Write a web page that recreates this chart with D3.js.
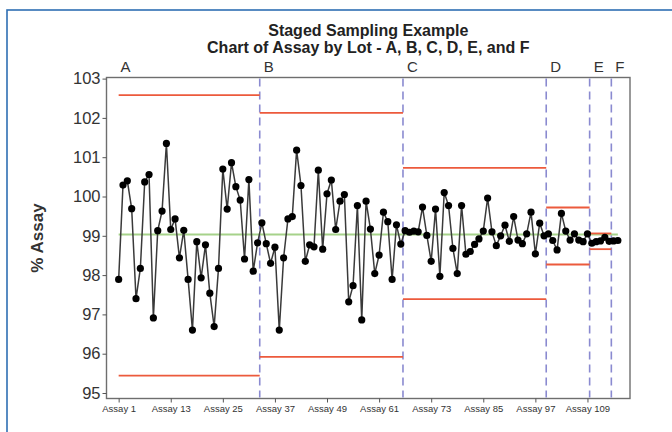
<!DOCTYPE html>
<html>
<head>
<meta charset="utf-8">
<script src="https://cdn.jsdelivr.net/npm/d3@7"></script>
<style>
  html, body { margin: 0; padding: 0; background: #fff; }
  svg { display: block; font-family: "Liberation Sans", Arial, sans-serif; }
</style>
</head>
<body>
<svg id="chart" width="672" height="432"></svg>
<script>
// % assay result for each sample, in sampling order (Assay 1 .. Assay 116)
const assayValues = [
  97.89, 100.29, 100.40, 99.69, 97.40, 98.17, 100.37, 100.56, 96.91, 99.13,
  99.63, 101.35, 99.16, 99.43, 98.44, 99.14, 97.89, 96.60, 98.85, 97.93,
  98.77, 97.54, 96.69, 98.17, 100.70, 99.68, 100.86, 100.25, 99.91, 98.41,
  100.43, 98.10, 98.82, 99.33, 98.80, 98.30, 98.71, 96.60, 98.44, 99.43,
  99.49, 101.18, 100.28, 98.35, 98.77, 98.72, 100.67, 98.66, 100.07, 100.42,
  99.16, 99.88, 100.05, 97.32, 97.73, 99.77, 96.86, 99.88, 99.17, 98.04,
  98.51, 99.60, 99.36, 97.89, 99.28, 98.79, 99.13, 99.09, 99.12, 99.10,
  99.73, 99.01, 98.35, 99.68, 97.97, 100.10, 99.77, 98.68, 98.04, 99.77,
  98.53, 98.60, 98.78, 98.92, 99.12, 99.96, 99.10, 98.75, 99.00, 99.27,
  98.86, 99.49, 98.89, 98.80, 99.05, 99.60, 98.54, 99.32, 99.00, 99.05,
  98.88, 98.64, 99.57, 99.12, 98.89, 99.05, 98.89, 98.85, 99.05, 98.81,
  98.85, 98.87, 98.96, 98.86, 98.87, 98.88
];

// Lots: first and last sample of each, with the stage's acceptance limits
const lotNames  = ["A", "B", "C", "D", "E", "F"];
const lotFirst  = [1, 34, 67, 100, 110, 115];
const lotLast   = [33, 66, 99, 109, 114, 116];
const lotUpper  = [102.58, 102.13, 100.73, 99.72, 99.06, null];
const lotLower  = [95.44, 95.92, 97.39, 98.27, 98.66, null];

// Overall target line
const centerValue = 99.03;

// Axis tick labels
const xTickLabels = ["Assay 1", "Assay 13", "Assay 25", "Assay 37", "Assay 49",
                     "Assay 61", "Assay 73", "Assay 85", "Assay 97", "Assay 109"];
const yTicks = [95, 96, 97, 98, 99, 100, 101, 102, 103];

const categories = assayValues.map((_, i) => "Assay " + (i + 1));

const svg = d3.select("#chart");
const frame = { left: 106.5, right: 630, top: 77.5, bottom: 398.5 };

// Outer figure border
svg.append("rect")
  .attr("x", 7).attr("y", 10).attr("width", 700).attr("height", 460)
  .attr("fill", "none").attr("stroke", "#2f6fb3").attr("stroke-width", 1.6);

const x = d3.scalePoint()
  .domain(categories)
  .range([frame.left, frame.right])
  .padding(2.8);

const y = d3.scaleLinear()
  .domain([95, 103])
  .range([393, 78.6]);

const step = x.step();
const xOf = n => x("Assay " + n);

// Plot frame
svg.append("rect")
  .attr("x", frame.left).attr("y", frame.top)
  .attr("width", frame.right - frame.left).attr("height", frame.bottom - frame.top)
  .attr("fill", "#fff").attr("stroke", "#6e6e6e").attr("stroke-width", 1.4);

// Y axis
const yAxis = svg.append("g")
  .attr("transform", `translate(${frame.left},0)`)
  .call(d3.axisLeft(y).tickValues(yTicks).tickSize(4).tickPadding(2).tickFormat(d3.format("d")));
yAxis.select(".domain").remove();
yAxis.selectAll("line").attr("stroke", "#555");
yAxis.selectAll("text").attr("font-size", 16.5).attr("fill", "#333");

// X axis
const xAxis = svg.append("g")
  .attr("transform", `translate(0,${frame.bottom})`)
  .call(d3.axisBottom(x).tickValues(xTickLabels).tickSize(4).tickPadding(3));
xAxis.select(".domain").remove();
xAxis.selectAll("line").attr("stroke", "#555");
xAxis.selectAll("text").attr("font-size", 9.5).attr("fill", "#333");

// Y axis title
svg.append("text")
  .attr("transform", `translate(43,${(frame.top + frame.bottom) / 2}) rotate(-90)`)
  .attr("text-anchor", "middle")
  .attr("font-size", 17).attr("font-weight", "bold").attr("fill", "#333")
  .text("% Assay");

// Titles
svg.append("text")
  .attr("x", (frame.left + frame.right) / 2).attr("y", 36)
  .attr("text-anchor", "middle").attr("font-size", 16).attr("font-weight", "bold")
  .attr("fill", "#222").text("Staged Sampling Example");
svg.append("text")
  .attr("x", (frame.left + frame.right) / 2).attr("y", 53)
  .attr("text-anchor", "middle").attr("font-size", 16).attr("font-weight", "bold")
  .attr("fill", "#222").text("Chart of Assay by Lot - A, B, C, D, E, and F");

// Lot boundaries (half a step before each lot's first sample)
const boundaryX = lotFirst.slice(1).map(n => xOf(n) - step / 2);
svg.append("g").selectAll("line")
  .data(boundaryX)
  .join("line")
  .attr("x1", d => d).attr("x2", d => d)
  .attr("y1", frame.top + 1).attr("y2", frame.bottom - 1)
  .attr("stroke", "#8a8ad0").attr("stroke-width", 1.6)
  .attr("stroke-dasharray", "8,5");

// Lot labels above the frame
svg.append("g").selectAll("text")
  .data(lotNames)
  .join("text")
  .attr("x", (d, i) => (i === 0 ? xOf(1) - step / 2 : boundaryX[i - 1]) + 4)
  .attr("y", 72)
  .attr("font-size", 15).attr("fill", "#333")
  .text(d => d);

// Target line
svg.append("line")
  .attr("x1", xOf(1)).attr("x2", xOf(assayValues.length))
  .attr("y1", y(centerValue)).attr("y2", y(centerValue))
  .attr("stroke", "#a6d28a").attr("stroke-width", 2);

// Acceptance limits per lot
const limitSegs = [];
lotNames.forEach((name, i) => {
  const x1 = i === 0 ? xOf(1) : boundaryX[i - 1];
  const x2 = i === lotNames.length - 1 ? xOf(lotLast[i]) : boundaryX[i];
  if (lotUpper[i] != null) limitSegs.push({ x1, x2, v: lotUpper[i] });
  if (lotLower[i] != null) limitSegs.push({ x1, x2, v: lotLower[i] });
});
svg.append("g").selectAll("line")
  .data(limitSegs)
  .join("line")
  .attr("x1", d => d.x1).attr("x2", d => d.x2)
  .attr("y1", d => y(d.v)).attr("y2", d => y(d.v))
  .attr("stroke", "#ec5a3c").attr("stroke-width", 1.8);

// Assay series
const pts = assayValues.map((v, i) => ({ c: categories[i], v }));
svg.append("path")
  .datum(pts)
  .attr("fill", "none").attr("stroke", "#3a3a3a").attr("stroke-width", 1.5)
  .attr("d", d3.line().x(d => x(d.c)).y(d => y(d.v)));
svg.append("g").selectAll("circle")
  .data(pts)
  .join("circle")
  .attr("cx", d => x(d.c)).attr("cy", d => y(d.v))
  .attr("r", 3.6).attr("fill", "#000");
</script>
</body>
</html>
